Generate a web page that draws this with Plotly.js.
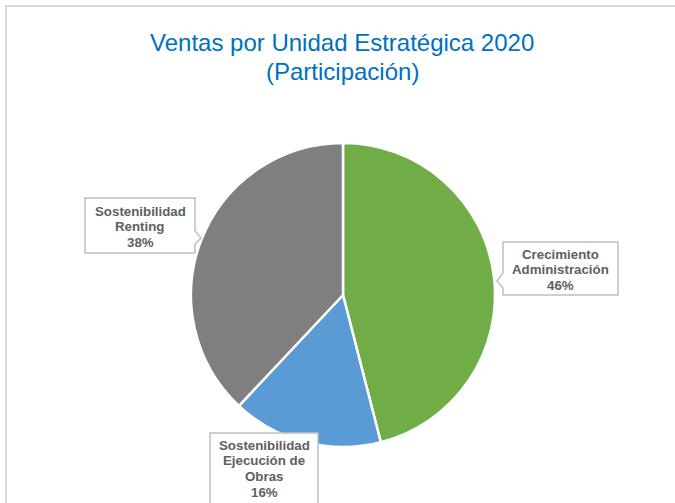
<!DOCTYPE html>
<html>
<head>
<meta charset="utf-8">
<script src="https://cdn.plot.ly/plotly-3.0.1.min.js"></script>
<style>html,body{margin:0;padding:0;background:#fff;}#chart{width:675px;height:503px;}</style>
</head>
<body>
<div id="chart"></div>
<script>
// Data
const titleLines = ["Ventas por Unidad Estratégica 2020", "(Participación)"];
const labels = ["Crecimiento Administración", "Sostenibilidad Ejecución de Obras", "Sostenibilidad Renting"];
const labelLines = [["Crecimiento", "Administración"], ["Sostenibilidad", "Ejecución de", "Obras"], ["Sostenibilidad", "Renting"]];
const values = [46, 16, 38];
const colors = ["#70AD47", "#5B9BD5", "#7F7F7F"];

const W = 675, H = 503;
const px = x => x / W;
const py = y => 1 - y / H;

const total = values.reduce((a, b) => a + b, 0);
const pct = values.map(v => Math.round(v / total * 100) + "%");

// label box layout (pixels)
const boxes = [
  {l: 503, t: 242, r: 618, b: 295, y0: 254, tail: {side: "left", y1: 273, y2: 288, tx: 497, ty: 281}},
  {l: 210, t: 433, r: 318, b: 515, y0: 445, tail: null},
  {l: 85, t: 198, r: 195, b: 253, y0: 211, tail: {side: "right", y1: 231, y2: 244, tx: 201, ty: 238}}
];
const lineStep = 15.8;

function boxPath(b) {
  const P = (x, y) => px(x) + "," + py(y);
  let d = "M" + P(b.l, b.t) + " L" + P(b.r, b.t);
  if (b.tail && b.tail.side === "right") {
    d += " L" + P(b.r, b.tail.y1) + " L" + P(b.tail.tx, b.tail.ty) + " L" + P(b.r, b.tail.y2);
  }
  d += " L" + P(b.r, b.b) + " L" + P(b.l, b.b);
  if (b.tail && b.tail.side === "left") {
    d += " L" + P(b.l, b.tail.y2) + " L" + P(b.tail.tx, b.tail.ty) + " L" + P(b.l, b.tail.y1);
  }
  d += " Z";
  return d;
}

const shapes = [
  {type: "rect", xref: "paper", yref: "paper", x0: px(6), y0: py(6), x1: px(720), y1: py(540),
   line: {color: "#D9D9D9", width: 2}, fillcolor: "rgba(0,0,0,0)", layer: "below"}
];
boxes.forEach(b => shapes.push({type: "path", xref: "paper", yref: "paper", path: boxPath(b),
  line: {color: "#BFBFBF", width: 1.5}, fillcolor: "#FFFFFF", layer: "above"}));

const annotations = [];
const labelFont = {family: "Liberation Sans, Arial, sans-serif", size: 13.3, color: "#606060"};
boxes.forEach((b, i) => {
  const lines = labelLines[i].concat([pct[i]]);
  lines.forEach((t, k) => annotations.push({
    xref: "paper", yref: "paper", x: px((b.l + b.r) / 2), y: py(b.y0 + k * lineStep),
    xanchor: "center", yanchor: "middle", showarrow: false, align: "center",
    text: "<b>" + t + "</b>", font: labelFont
  }));
});

const titleFont = {family: "Liberation Sans, Arial, sans-serif", size: 24, color: "#0070C0"};
const titleY = [43, 71];
titleLines.forEach((t, k) => annotations.push({
  xref: "paper", yref: "paper", x: px(342), y: py(titleY[k]),
  xanchor: "center", yanchor: "middle", showarrow: false, text: t, font: titleFont
}));

const cx = 343, cyc = 295, R = 152;
const trace = {
  type: "pie",
  labels: labels,
  values: values,
  sort: false,
  direction: "clockwise",
  rotation: 0,
  textinfo: "none",
  hoverinfo: "label+percent",
  marker: {colors: colors, line: {color: "#FFFFFF", width: 2.5}},
  domain: {x: [px(cx - R), px(cx + R)], y: [py(cyc + R), py(cyc - R)]},
  showlegend: false
};

const layout = {
  width: W, height: H,
  margin: {l: 0, r: 0, t: 0, b: 0},
  paper_bgcolor: "#FFFFFF",
  shapes: shapes,
  annotations: annotations,
  showlegend: false
};

Plotly.newPlot("chart", [trace], layout, {displayModeBar: false, staticPlot: true});
</script>
</body>
</html>
